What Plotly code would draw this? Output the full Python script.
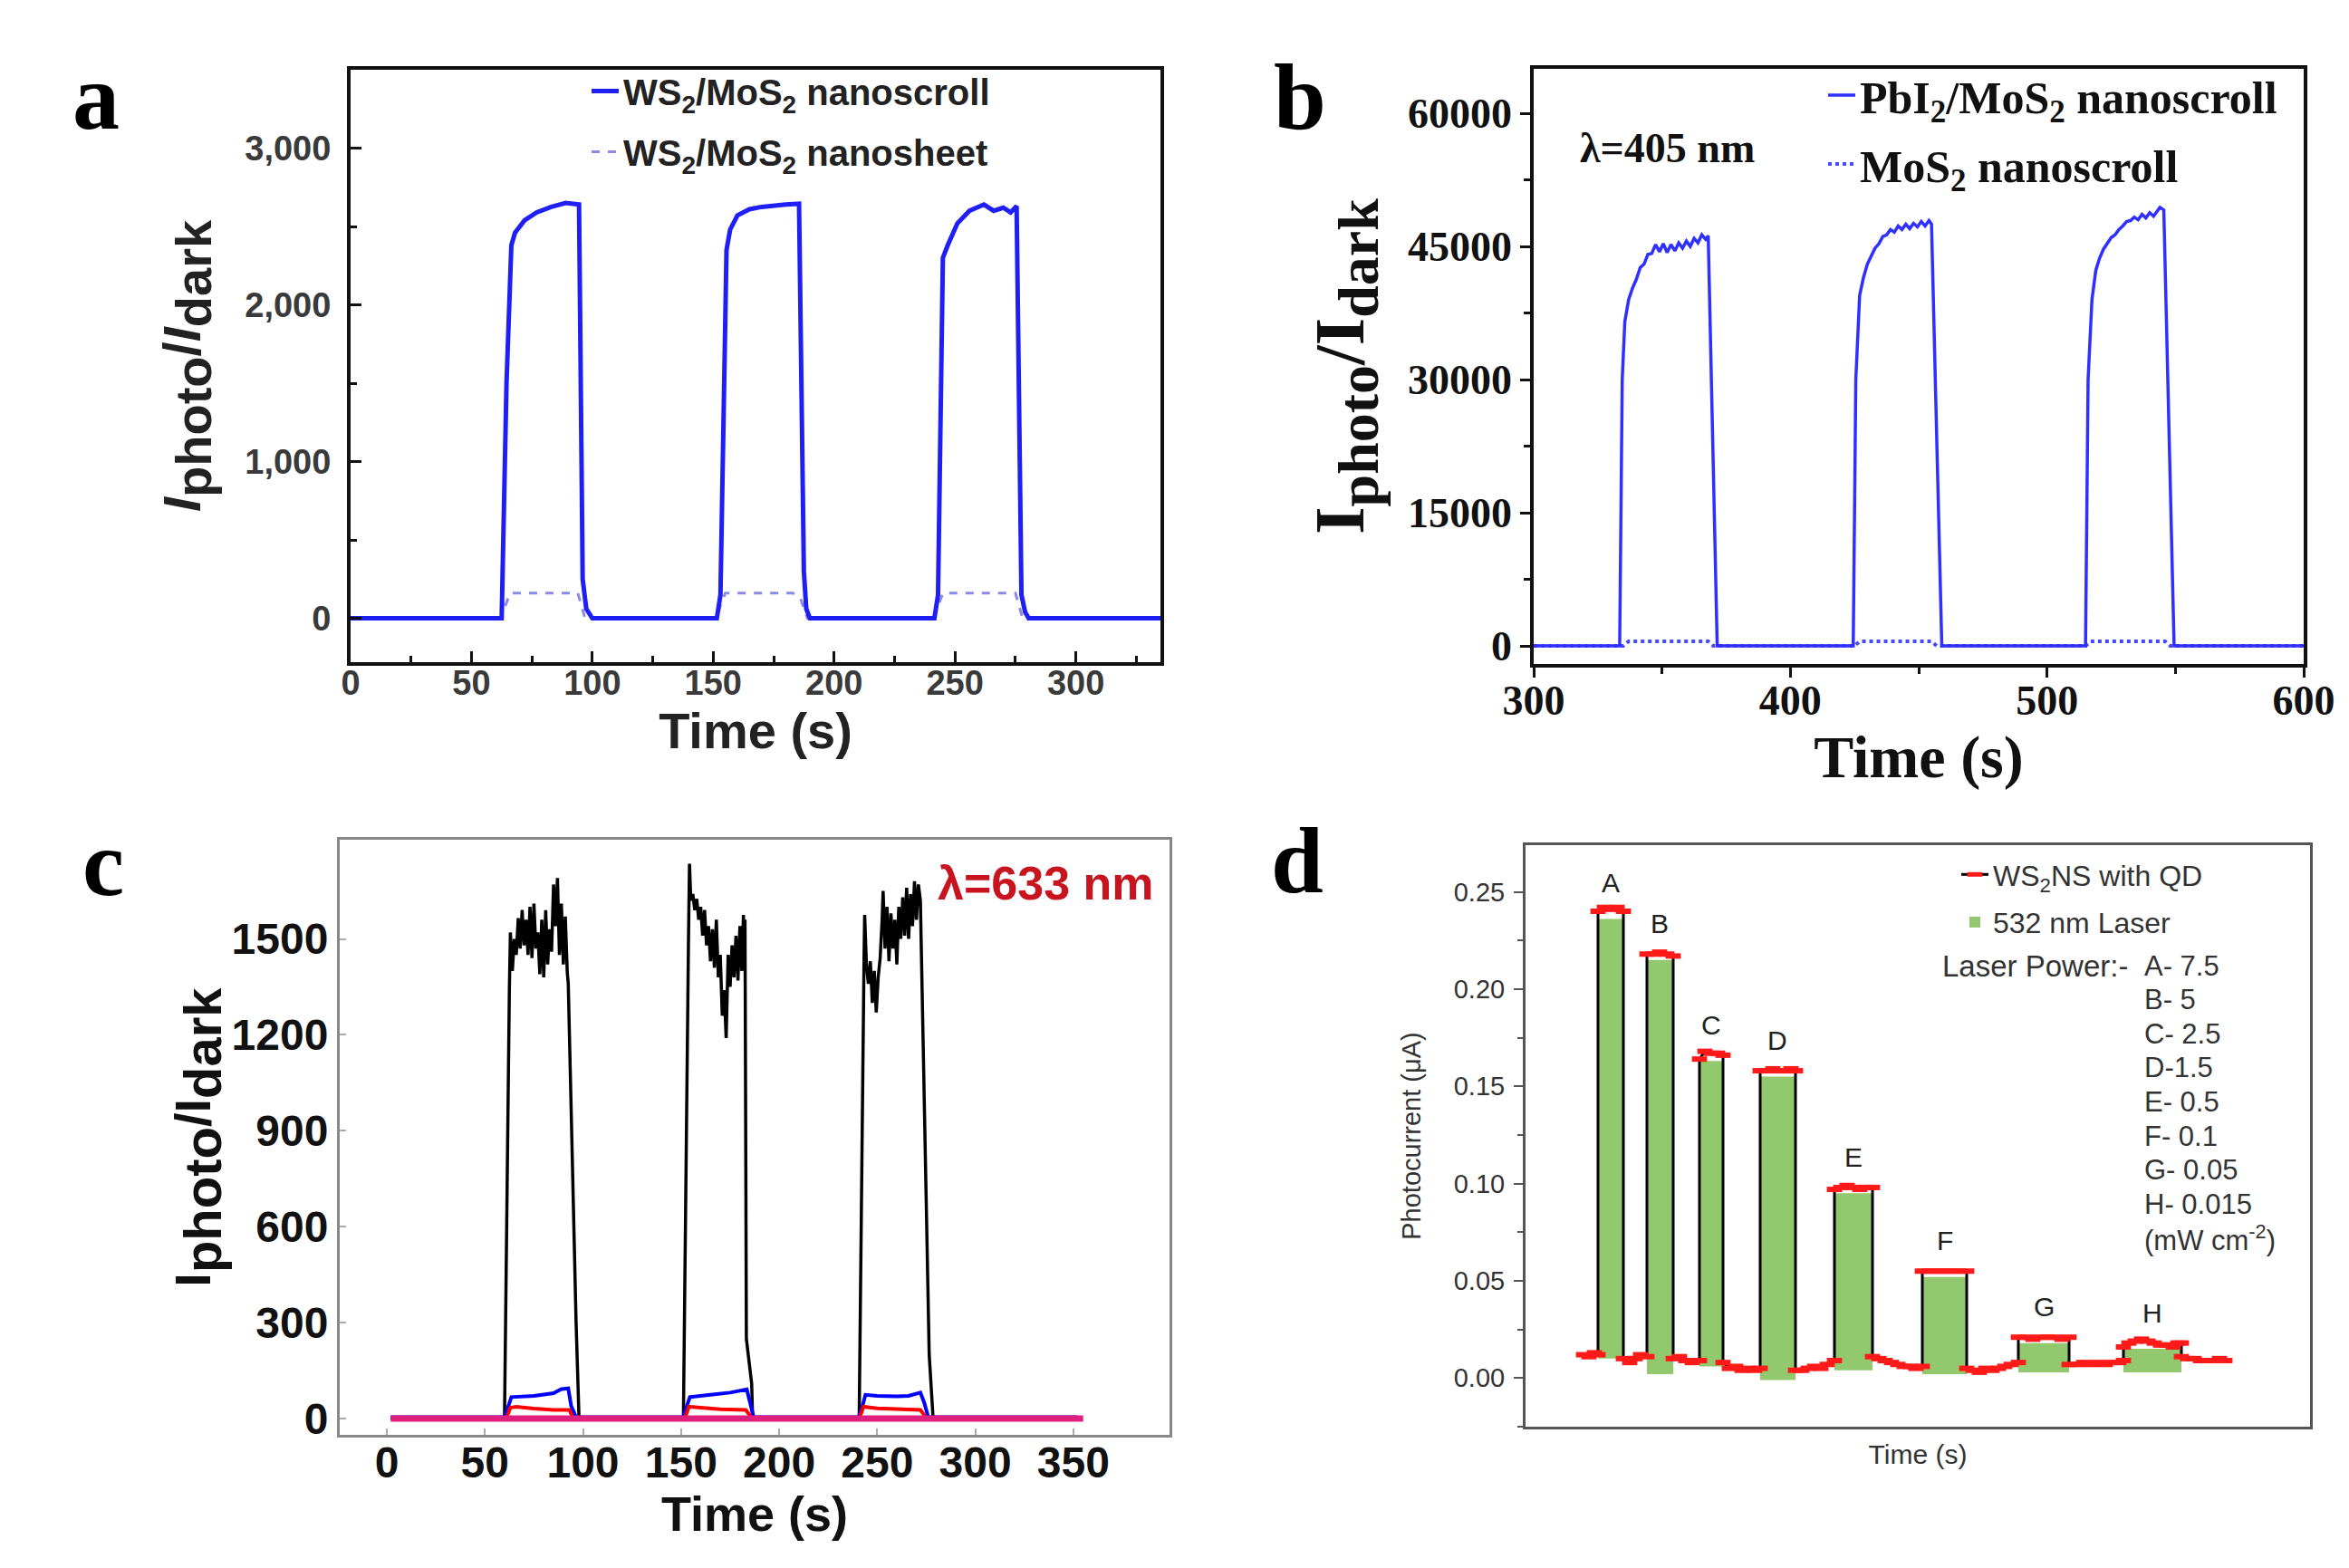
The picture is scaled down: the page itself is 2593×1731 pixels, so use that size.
import plotly.graph_objects as go

W, H = 2593, 1731

# ---------------- panel a : WS2/MoS2 on/off response
a_time = [0, 20, 40, 62.5, 64.5, 66.5, 68, 72, 77, 83, 89, 94.5, 96, 97.5, 100,
          120, 140, 151.5, 153, 155.5, 157, 160, 165, 170, 180, 185.5, 187.5, 188.5, 190,
          210, 230, 241.5, 243, 245, 247, 251, 256, 262, 266, 270, 273, 275.5, 277.5, 279, 280.5,
          300, 320, 335]
a_scroll = [0, 0, 0, 0, 1500, 2380, 2460, 2540, 2590, 2625, 2650, 2640, 250, 60, 0,
            0, 0, 0, 150, 2350, 2480, 2570, 2610, 2625, 2640, 2645, 300, 60, 0,
            0, 0, 0, 150, 2300, 2380, 2520, 2600, 2640, 2600, 2620, 2590, 2630, 150, 40, 0,
            0, 0, 0]
a_sheet_time = [0, 62, 66, 94, 97, 151, 155, 183, 186, 189, 241, 245, 275, 278, 335]
a_sheet = [0, 0, 160, 160, 0, 0, 160, 160, 130, 0, 0, 160, 160, 0, 0]

# ---------------- panel b : PbI2/MoS2 nanoscroll, 405 nm
b_time = [300, 320, 333.5, 334.5, 335.5, 337, 338.5, 340, 341.5, 343, 344.5, 346, 347.5, 349,
          350.5, 352, 353.5, 355, 356.5, 358, 359.5, 361, 362.5, 364, 365.5, 367, 368, 371.5,
          395, 424.5, 425.5, 427, 428.5, 430, 431.5, 433, 434.5, 436, 437.5, 439, 440.5, 442,
          443.5, 445, 446.5, 448, 449.5, 451, 452.5, 454, 455, 459,
          485, 515, 516, 517.5, 519, 520.5, 522, 523.5, 525, 526.5, 528, 529.5, 531, 532.5,
          534, 535.5, 537, 538.5, 540, 541.5, 543, 544, 545.5, 549.5, 575, 600]
b_pbi2 = [0, 0, 0, 30000, 36500, 39000, 40300, 41300, 42600, 43000, 44100, 44200, 45200, 44400,
          45300, 44300, 45200, 44500, 45400, 44800, 45600, 45000, 45900, 45400, 46300, 45800, 46200, 0,
          0, 0, 30000, 39500, 41500, 43000, 43900, 44800, 45300, 46100, 46300, 46900, 46600, 47300,
          46900, 47500, 47000, 47600, 47200, 47800, 47300, 47900, 47500, 0,
          0, 0, 30000, 39000, 42300, 43700, 44700, 45300, 46000, 46300, 46900, 47300, 47800, 47900,
          48300, 48000, 48600, 48200, 48800, 48400, 49100, 49400, 49100, 0, 0, 0]
b_mos2_time = [300, 335, 337, 368, 370, 425, 427, 455, 457, 515, 517, 546, 548, 600]
b_mos2 = [0, 0, 500, 500, 0, 0, 500, 500, 0, 0, 500, 500, 0, 0]

# ---------------- panel c : 633 nm
c_black_time = [2, 30, 60, 62.5, 63, 64, 65, 66, 67, 68, 69, 70, 71, 72, 73, 74, 75, 76, 77, 78,
                79, 80, 81, 82, 83, 84, 85, 86, 87, 88, 89, 90, 91, 92, 92.5, 96.5, 98,
                120, 151.2, 153.8, 154.3, 155, 156, 157, 158, 159, 160, 161, 162, 163, 164, 165,
                166, 167, 168, 169, 170, 171, 172, 173, 174, 175, 176, 177, 178, 179, 180, 181,
                181.8, 182.3, 182.6, 183.3, 186, 186.5,
                210, 240.8, 243.3, 243.6, 244.5, 245.5, 246.5, 247.5, 248.5, 249.5, 250.5, 251.5,
                252.5, 253, 254, 255, 256, 257, 258, 259, 260, 261, 262, 263, 264, 265, 266, 267,
                268, 269, 270, 271, 272, 276.5, 278.5, 300, 330, 352]
c_black = [0, 0, 0, 1350, 1520, 1400, 1500, 1450, 1565, 1470, 1590, 1480, 1560, 1450, 1600, 1440,
           1610, 1470, 1520, 1390, 1560, 1380, 1590, 1420, 1530, 1460, 1670, 1540, 1690, 1450, 1610,
           1420, 1570, 1395, 1360, 300, 0,
           0, 0, 1500, 1735, 1620, 1640, 1590, 1625, 1560, 1600, 1510, 1590, 1480, 1540, 1430,
           1530, 1410, 1560, 1380, 1450, 1260, 1340, 1190, 1450, 1350, 1480, 1380, 1510, 1370, 1540, 1400,
           1575, 1400, 1560, 250, 110, 0,
           0, 0, 1450, 1575, 1420, 1360, 1430, 1300, 1400, 1270, 1380, 1440,
           1560, 1650, 1470, 1600, 1430, 1580, 1470, 1560, 1420, 1600, 1500, 1630, 1510, 1660, 1500, 1640,
           1540, 1680, 1560, 1670, 1620, 200, 0, 0, 0, 0]
c_blue_time = [2, 60, 62, 63.5, 75, 85, 89, 92.5, 94, 96.5, 151, 153, 154.5, 165, 175, 183.5, 185.5,
               187, 240.5, 242.5, 244, 250, 260, 266, 272, 274, 276, 352]
c_blue = [5, 5, 40, 68, 72, 80, 93, 95, 40, 5, 5, 45, 68, 75, 82, 92, 40,
          5, 5, 40, 75, 72, 70, 72, 82, 50, 5, 5]
c_red_time = [2, 61, 63, 66, 75, 85, 93, 95, 152, 154, 160, 170, 183, 186, 241, 243, 250, 260, 272,
              275, 352]
c_red = [3, 3, 35, 38, 32, 28, 28, 3, 3, 38, 35, 30, 28, 3, 3, 38, 33, 30, 28, 3, 3]
c_mag_time = [2, 61, 63, 94, 96, 152, 154, 185, 187, 241, 243, 275, 277, 355]
c_mag = [1, 1, 4, 4, 1, 1, 4, 4, 1, 1, 4, 4, 1, 1]
c_yticks = [0, 300, 600, 900, 1200, 1500]

# ---------------- panel d : WS2 NS with QD, 532 nm laser at several powers
d_time = [64, 70, 76, 80, 80, 87, 94, 101, 108, 108, 115, 121, 127, 134,
          134, 141, 148, 156, 163, 163, 170, 177, 184, 192,
          192, 198, 205, 212, 218, 218, 225, 232, 239, 246, 253, 259,
          259, 266, 273, 280, 287, 293, 298, 298, 305, 312, 319, 326, 333, 341,
          341, 348, 355, 362, 369, 376, 383, 383, 390, 397, 404, 411, 418, 425, 431, 438,
          438, 446, 454, 462, 470, 478, 487, 487, 494, 501, 508, 515, 522, 529, 536, 544,
          544, 552, 560, 568, 576, 584, 592, 600, 600, 608, 616, 624, 632, 640, 648, 655, 660,
          660, 666, 673, 680, 687, 694, 701, 708, 715, 720, 724, 724, 731, 738, 745, 752, 759, 766, 772]
d_current = [0.012, 0.011, 0.013, 0.012, 0.240, 0.242, 0.241, 0.242, 0.240, 0.010, 0.008, 0.010, 0.012, 0.011,
             0.218, 0.218, 0.219, 0.218, 0.217, 0.010, 0.011, 0.009, 0.008, 0.009,
             0.164, 0.168, 0.167, 0.167, 0.166, 0.008, 0.005, 0.006, 0.004, 0.005, 0.004, 0.005,
             0.158, 0.158, 0.159, 0.158, 0.158, 0.159, 0.158, 0.004, 0.004, 0.005, 0.006, 0.005, 0.007, 0.009,
             0.097, 0.098, 0.099, 0.098, 0.097, 0.098, 0.098, 0.011, 0.010, 0.009, 0.008, 0.007, 0.006, 0.006, 0.005, 0.006,
             0.055, 0.055, 0.055, 0.055, 0.055, 0.055, 0.055, 0.005, 0.004, 0.003, 0.005, 0.004, 0.005, 0.006, 0.007, 0.008,
             0.021, 0.021, 0.020, 0.021, 0.021, 0.021, 0.020, 0.021, 0.007, 0.007, 0.008, 0.007, 0.008, 0.007, 0.008, 0.008, 0.009,
             0.016, 0.018, 0.019, 0.020, 0.019, 0.018, 0.017, 0.017, 0.016, 0.018, 0.018, 0.011, 0.010, 0.010, 0.009, 0.009, 0.009, 0.010, 0.009]
d_bar_start = [80, 134, 192, 259, 341, 438, 544, 660]
d_bar_end = [108, 163, 218, 298, 383, 487, 600, 724]
d_bar_top = [0.236, 0.215, 0.163, 0.155, 0.095, 0.052, 0.018, 0.015]
d_bar_base = [0.010, 0.002, 0.006, -0.001, 0.004, 0.002, 0.003, 0.003]
d_letters = ['A', 'B', 'C', 'D', 'E', 'F', 'G', 'H']
d_power = ['- 7.5', '- 5', '- 2.5', '-1.5', '- 0.5', '- 0.1', '- 0.05', '- 0.015']


def px_x(p):
    return p / W


def px_y(p):
    return 1 - p / H


SANS = 'Liberation Sans, Arial'
SERIF = 'Liberation Serif, Times New Roman'

fig = go.Figure()

# a
fig.add_trace(go.Scatter(x=a_sheet_time, y=a_sheet, xaxis='x', yaxis='y', mode='lines',
                         line=dict(color='#8a8ae8', width=3, dash='dash'),
                         name='WS<sub>2</sub>/MoS<sub>2</sub> nanosheet',
                         legend='legend', legendgroup='a2', legendrank=2))
fig.add_trace(go.Scatter(x=a_time, y=a_scroll, xaxis='x', yaxis='y', mode='lines',
                         line=dict(color='#1e1ef5', width=5),
                         name='WS<sub>2</sub>/MoS<sub>2</sub> nanoscroll',
                         legend='legend', legendgroup='a1', legendrank=1))

# b
fig.add_trace(go.Scatter(x=b_mos2_time, y=b_mos2, xaxis='x2', yaxis='y2', mode='lines',
                         line=dict(color='#4848ff', width=4, dash='dot'),
                         name='MoS<sub>2</sub> nanoscroll',
                         legend='legend2', legendgroup='b2', legendrank=2))
fig.add_trace(go.Scatter(x=b_time, y=b_pbi2, xaxis='x2', yaxis='y2', mode='lines',
                         line=dict(color='#2f2fff', width=3.5),
                         name='PbI<sub>2</sub>/MoS<sub>2</sub> nanoscroll',
                         legend='legend2', legendgroup='b1', legendrank=1))

# c
fig.add_trace(go.Scatter(x=c_black_time, y=c_black, xaxis='x3', yaxis='y3', mode='lines',
                         line=dict(color='#000000', width=3.5), showlegend=False))
fig.add_trace(go.Scatter(x=c_blue_time, y=c_blue, xaxis='x3', yaxis='y3', mode='lines',
                         line=dict(color='#0000ff', width=4), showlegend=False))
fig.add_trace(go.Scatter(x=c_red_time, y=c_red, xaxis='x3', yaxis='y3', mode='lines',
                         line=dict(color='#ff0000', width=4), showlegend=False))
fig.add_trace(go.Scatter(x=c_mag_time, y=c_mag, xaxis='x3', yaxis='y3', mode='lines',
                         line=dict(color='#e0207e', width=7), showlegend=False))

# d
bar_mid = [(s + e) / 2 for s, e in zip(d_bar_start, d_bar_end)]
bar_w = [e - s for s, e in zip(d_bar_start, d_bar_end)]
bar_len = [t - b for t, b in zip(d_bar_top, d_bar_base)]
fig.add_trace(go.Bar(x=bar_mid, y=bar_len, base=d_bar_base, width=bar_w, xaxis='x4', yaxis='y4',
                     marker=dict(color='#92c96e', line_width=0), name='532 nm Laser',
                     legend='legend3', legendgroup='d2', legendrank=2))
fig.add_trace(go.Scatter(x=d_time, y=d_current, xaxis='x4', yaxis='y4', mode='lines+markers',
                         line=dict(color='#000000', width=3),
                         marker=dict(symbol='line-ew', size=12, color='#ff1a1a',
                                     line=dict(width=6, color='#ff1a1a')),
                         name='WS<sub>2</sub>NS with QD',
                         legend='legend3', legendgroup='d1', legendrank=1))


def axis(x0, x1, rng, anchor, **kw):
    d = dict(domain=[x0, x1], range=rng, anchor=anchor, showgrid=False, zeroline=False,
             automargin=False, showline=True, mirror=True)
    d.update(kw)
    return d


fig.update_layout(
    width=W, height=H, margin=dict(l=0, r=0, t=0, b=0), autosize=False,
    paper_bgcolor='white', plot_bgcolor='white', showlegend=True,
    # ---- a
    xaxis=axis(px_x(379), px_x(1273), [0, 335], 'y',
               linecolor='#111', linewidth=4, ticks='inside', ticklen=12, tickwidth=3, tickcolor='#111',
               dtick=50, tick0=0, minor=dict(ticks='inside', ticklen=7, dtick=25, tickwidth=3, tickcolor='#111'),
               ticklabelstandoff=-14,
               tickfont=dict(family=SANS, size=38, color='#3a3a3a', weight='bold'),
               title=dict(text='Time (s)', standoff=4,
                          font=dict(family=SANS, size=56, color='#222', weight='bold'))),
    yaxis=axis(px_y(723), px_y(69), [-280, 3500], 'x',
               linecolor='#111', linewidth=4, ticks='inside', ticklen=12, tickwidth=3, tickcolor='#111',
               dtick=1000, tick0=0, tickformat=',d', ticklabelstandoff=10,
               minor=dict(ticks='inside', ticklen=7, dtick=500, tickwidth=3, tickcolor='#111'),
               tickfont=dict(family=SANS, size=38, color='#3a3a3a', weight='bold'),
               title=dict(text='<i>I</i><sub><span style="font-size:56px">photo</span></sub>/'
                               '<i>I</i><sub><span style="font-size:56px">dark</span></sub>',
                          standoff=31, font=dict(family=SANS, size=58, color='#222', weight='bold'))),
    # ---- b
    xaxis2=axis(px_x(1685), px_x(2535), [300, 600], 'y2',
                linecolor='#111', linewidth=3.5, ticks='outside', ticklen=11, tickwidth=3, tickcolor='#111',
                dtick=100, tick0=300, minor=dict(ticks='outside', ticklen=7, dtick=50, tickwidth=3, tickcolor='#111'),
                ticklabelstandoff=-14,
                tickfont=dict(family=SERIF, size=46, color='#111', weight='bold'),
                title=dict(text='Time (s)', standoff=0,
                           font=dict(family=SERIF, size=66, color='#111', weight='bold'))),
    yaxis2=axis(px_y(725), px_y(68), [-2040, 65000], 'x2',
                linecolor='#111', linewidth=3.5, ticks='outside', ticklen=11, tickwidth=3, tickcolor='#111',
                dtick=15000, tick0=0, tickformat='d',
                minor=dict(ticks='outside', ticklen=7, dtick=7500, tickwidth=3, tickcolor='#111'),
                tickfont=dict(family=SERIF, size=46, color='#111', weight='bold'),
                title=dict(text='I<sub><span style="font-size:64px">photo</span></sub>/'
                                'I<sub><span style="font-size:64px">dark</span></sub>',
                           standoff=24, font=dict(family=SERIF, size=78, color='#111', weight='bold'))),
    # ---- c
    xaxis3=axis(px_x(367), px_x(1283), [-24, 399], 'y3',
                linecolor='#888', linewidth=3, ticks='inside', ticklen=7, tickwidth=2, tickcolor='#aaa',
                dtick=50, tick0=0, ticklabelstandoff=-14,
                tickfont=dict(family=SANS, size=48, color='#111', weight='bold'),
                title=dict(text='Time (s)', standoff=0,
                           font=dict(family=SANS, size=54, color='#111', weight='bold'))),
    yaxis3=axis(px_y(1576), px_y(919), [-50, 1810], 'x3',
                linecolor='#888', linewidth=3, ticks='inside', ticklen=7, tickwidth=2, tickcolor='#aaa',
                tickvals=c_yticks,
                tickfont=dict(family=SANS, size=48, color='#111', weight='bold'),
                title=dict(text='I<sub><span style="font-size:58px">photo</span></sub>/'
                                'I<sub><span style="font-size:58px">dark</span></sub>',
                           standoff=0, font=dict(family=SANS, size=56, color='#111', weight='bold'))),
    # ---- d
    xaxis4=axis(px_x(1676), px_x(2542), [0, 866], 'y4',
                linecolor='#555', linewidth=3, ticks='', showticklabels=False,
                title=dict(text='Time (s)', standoff=18,
                           font=dict(family=SANS, size=30, color='#333'))),
    yaxis4=axis(px_y(1567), px_y(925), [-0.025, 0.274], 'x4',
                linecolor='#555', linewidth=3, ticks='outside', ticklen=10, tickwidth=2, tickcolor='#555',
                dtick=0.05, tick0=0, tickformat='.2f', ticklabelstandoff=4,
                minor=dict(ticks='outside', ticklen=6, dtick=0.025, tickwidth=2, tickcolor='#555'),
                tickfont=dict(family=SANS, size=29, color='#333'),
                title=dict(text='Photocurrent (μA)', standoff=28,
                           font=dict(family=SANS, size=29, color='#333'))),
    legend=dict(x=px_x(640), y=px_y(60), xanchor='left', yanchor='top', bgcolor='rgba(0,0,0,0)',
                traceorder='grouped', tracegroupgap=12,
                font=dict(family=SANS, size=40, color='#222', weight='bold')),
    legend2=dict(x=px_x(2005), y=px_y(58), xanchor='left', yanchor='top', bgcolor='rgba(0,0,0,0)',
                 traceorder='grouped', tracegroupgap=8,
                 font=dict(family=SERIF, size=50, color='#111', weight='bold')),
    legend3=dict(x=px_x(2152), y=px_y(930), xanchor='left', yanchor='top', bgcolor='rgba(0,0,0,0)',
                 traceorder='grouped', tracegroupgap=8,
                 font=dict(family=SANS, size=32, color='#333')),
)

annotations = [
    dict(text='a', x=px_x(98), y=px_y(99)),
    dict(text='b', x=px_x(1427), y=px_y(99)),
    dict(text='c', x=px_x(106), y=px_y(945)),
    dict(text='d', x=px_x(1424), y=px_y(942)),
]
for a in annotations:
    a.update(xref='paper', yref='paper', showarrow=False, xanchor='center', yanchor='middle',
             font=dict(family=SERIF, size=104, color='#000', weight='bold'))

annotations.append(dict(text='λ=405 nm', x=px_x(1832), y=px_y(155), xref='paper', yref='paper',
                        xanchor='center', yanchor='middle', showarrow=False,
                        font=dict(family=SERIF, size=46, color='#111', weight='bold')))
annotations.append(dict(text='λ=633 nm', x=px_x(1146), y=px_y(967), xref='paper', yref='paper',
                        xanchor='center', yanchor='middle', showarrow=False,
                        font=dict(family=SANS, size=52, color='#c8141e', weight='bold')))

for letter, xm, top in zip(d_letters, bar_mid, d_bar_top):
    annotations.append(dict(text=letter, x=xm, y=top, xref='x4', yref='y4', showarrow=False,
                            xanchor='center', yanchor='middle', yshift=40,
                            font=dict(family=SANS, size=30, color='#222')))

annotations.append(dict(text='Laser Power:-', x=px_x(2343), y=px_y(1058), xref='paper', yref='paper',
                        xanchor='right', yanchor='middle', showarrow=False,
                        font=dict(family=SANS, size=33, color='#333')))
power_lines = [l + p for l, p in zip(d_letters, d_power)] + ['(mW cm<sup>-2</sup>)']
for i, line in enumerate(power_lines):
    annotations.append(dict(text=line, x=px_x(2357), y=px_y(1058 + 37.6 * i),
                            xref='paper', yref='paper', xanchor='left', yanchor='middle',
                            showarrow=False, font=dict(family=SANS, size=31, color='#333')))

fig.update_layout(annotations=annotations)

fig.write_html('out.html')
